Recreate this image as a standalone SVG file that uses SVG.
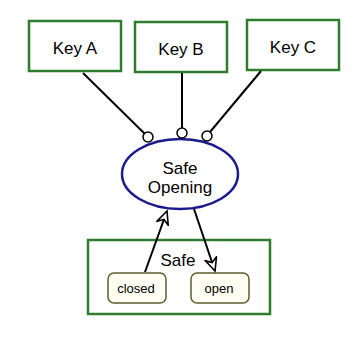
<svg xmlns="http://www.w3.org/2000/svg" width="358" height="343" viewBox="0 0 358 343">
<style>
.key{fill:#fff;stroke:#2e7d2e;stroke-width:2.5}
.t{font-family:"Liberation Sans",Arial,sans-serif;fill:#000;text-anchor:middle}
.big{font-size:17px}
.small{font-size:13px}
.state{fill:#fffff4;stroke:#5e5e30;stroke-width:1.5}
.ln{stroke:#000;stroke-width:2;fill:none}
.pin{fill:#fff;stroke:#000;stroke-width:1.5}
</style>
<defs>
<marker id="ah" markerWidth="16" markerHeight="14" refX="14" refY="7" orient="auto" markerUnits="userSpaceOnUse">
<path d="M14,7 L1,1 L5,7 L1,13 Z" fill="#fff" stroke="#000" stroke-width="1.6" stroke-linejoin="miter"/>
</marker>
</defs>
<rect width="358" height="343" fill="#fff"/>
<g id="keyA"><rect class="key" x="29" y="21" width="92" height="50"/><text class="t big" x="75" y="54">Key A</text></g>
<g id="keyB"><rect class="key" x="135" y="22" width="92" height="50"/><text class="t big" x="181" y="55">Key B</text></g>
<g id="keyC"><rect class="key" x="247" y="20" width="92" height="50"/><text class="t big" x="293" y="53">Key C</text></g>
<g id="safeOpening">
<ellipse cx="180" cy="174" rx="58" ry="35" fill="#fff" stroke="#1a1a8c" stroke-width="2.5"/>
<text class="t big" x="180" y="174">Safe</text>
<text class="t big" x="180" y="193">Opening</text>
</g>
<g id="safe">
<rect class="key" x="88" y="240" width="182" height="74"/>
<text class="t big" x="178" y="266">Safe</text>
</g>
<g id="closed"><rect class="state" x="108" y="273" width="58" height="30" rx="6"/><text class="t small" x="136" y="293">closed</text></g>
<g id="open"><rect class="state" x="191" y="273" width="58" height="30" rx="6"/><text class="t small" x="219" y="293">open</text></g>
<g id="connectors">
<line class="ln" x1="83" y1="73" x2="145" y2="134"/>
<line class="ln" x1="182" y1="73" x2="182" y2="128"/>
<line class="ln" x1="261" y1="71" x2="210" y2="132"/>
<line class="ln" x1="145" y1="272" x2="167" y2="211" marker-end="url(#ah)"/>
<line class="ln" x1="194" y1="209" x2="215" y2="271" marker-end="url(#ah)"/>
<circle class="pin" cx="148" cy="137" r="5"/>
<circle class="pin" cx="182" cy="133" r="5"/>
<circle class="pin" cx="207" cy="136" r="5"/>
</g>
</svg>
